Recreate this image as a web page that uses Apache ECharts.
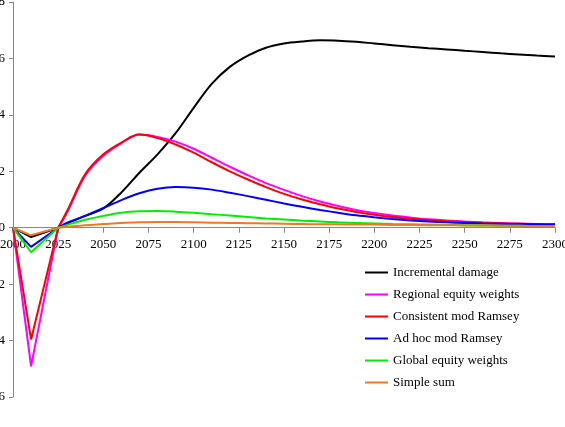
<!DOCTYPE html>
<html>
<head>
<meta charset="utf-8">
<script src="https://cdn.jsdelivr.net/npm/echarts@6/dist/echarts.min.js"></script>
<style>
  html, body { margin: 0; padding: 0; background: #fff; }
  #chart { width: 565px; height: 427px; }
</style>
</head>
<body>
<div id="chart"></div>
<script>
// years of the model output
const years = [2000, 2010, 2025, 2030, 2040, 2050, 2060, 2070, 2080, 2090, 2100,
  2110, 2120, 2130, 2140, 2150, 2160, 2170, 2180, 2190, 2200,
  2210, 2220, 2230, 2240, 2250, 2260, 2270, 2280, 2290, 2300];

const incrementalDamage = [0, -0.33, 0, 0.15, 0.42, 0.68, 1.25, 1.95, 2.6, 3.35, 4.25,
  5.1, 5.7, 6.1, 6.38, 6.53, 6.6, 6.64, 6.63, 6.59, 6.53,
  6.47, 6.41, 6.36, 6.32, 6.27, 6.23, 6.18, 6.14, 6.1, 6.07];
const regionalEquity = [0, -4.91, 0, 0.55, 1.85, 2.55, 3.0, 3.3, 3.22, 3.05, 2.8,
  2.48, 2.16, 1.86, 1.58, 1.34, 1.12, 0.93, 0.77, 0.63, 0.52,
  0.43, 0.36, 0.3, 0.26, 0.22, 0.19, 0.17, 0.15, 0.13, 0.12];
const consistentRamsey = [0, -3.96, 0, 0.6, 1.9, 2.6, 3.02, 3.3, 3.18, 2.95, 2.66,
  2.32, 2.0, 1.71, 1.44, 1.2, 1.0, 0.83, 0.68, 0.56, 0.46,
  0.38, 0.32, 0.27, 0.23, 0.2, 0.17, 0.15, 0.14, 0.13, 0.12];
const adHocRamsey = [0, -0.68, 0, 0.18, 0.42, 0.7, 0.98, 1.22, 1.38, 1.44, 1.42,
  1.35, 1.24, 1.12, 0.99, 0.86, 0.74, 0.63, 0.53, 0.44, 0.37,
  0.31, 0.26, 0.22, 0.19, 0.17, 0.15, 0.14, 0.13, 0.12, 0.11];
const globalEquity = [0, -0.87, 0, 0.1, 0.28, 0.42, 0.53, 0.58, 0.59, 0.57, 0.53,
  0.48, 0.43, 0.38, 0.33, 0.29, 0.25, 0.22, 0.19, 0.17, 0.15,
  0.13, 0.12, 0.11, 0.1, 0.09, 0.08, 0.07, 0.07, 0.06, 0.06];
const simpleSum = [0, -0.27, 0, 0.03, 0.09, 0.13, 0.17, 0.19, 0.2, 0.2, 0.19,
  0.18, 0.17, 0.16, 0.15, 0.14, 0.13, 0.12, 0.12, 0.11, 0.11,
  0.1, 0.1, 0.09, 0.09, 0.08, 0.08, 0.07, 0.07, 0.06, 0.06];

const seriesNames = ["Incremental damage", "Regional equity weights", "Consistent mod Ramsey",
  "Ad hoc mod Ramsey", "Global equity weights", "Simple sum"];
const seriesValues = [incrementalDamage, regionalEquity, consistentRamsey, adHocRamsey, globalEquity, simpleSum];
const seriesColors = ["#000000", "#ff00ff", "#ff0000", "#0000ff", "#00ee00", "#f07820"];

const font = "'Liberation Serif', 'Times New Roman', serif";
const gridBottom = 30;
const dipEnd = 2; // index of 2025: the early dip is drawn straight, the rest smooth

function pairs(vals) {
  return years.map((y, i) => [y, vals[i]]);
}

const series = [];
seriesNames.forEach((name, i) => {
  const pts = pairs(seriesValues[i]);
  const base = {
    name: name,
    type: "line",
    symbol: "none",
    color: seriesColors[i],
    lineStyle: { width: 2, color: seriesColors[i] }
  };
  series.push(Object.assign({}, base, { data: pts.slice(0, dipEnd + 1), smooth: false }));
  series.push(Object.assign({}, base, { data: pts.slice(dipEnd), smooth: 0.35 }));
});

const chart = echarts.init(document.getElementById("chart"));
chart.setOption({
  animation: false,
  backgroundColor: "#fff",
  grid: { left: 13, right: 10, top: 2, bottom: gridBottom, containLabel: false, outerBoundsMode: "none" },
  legend: {
    orient: "vertical",
    left: 360,
    top: 261,
    itemWidth: 23,
    itemHeight: 2,
    itemGap: 9,
    icon: "rect",
    textStyle: { fontFamily: font, fontSize: 13, color: "#000" },
    data: seriesNames
  },
  xAxis: {
    type: "value",
    min: 2000,
    max: 2300,
    interval: 25,
    axisLine: { onZero: false, lineStyle: { color: "#888", width: 1 } },
    axisTick: { show: true, length: 5, lineStyle: { color: "#888" } },
    axisLabel: { fontFamily: font, fontSize: 13, color: "#000", margin: 10, formatter: v => String(v) },
    splitLine: { show: false }
  },
  yAxis: {
    type: "value",
    min: -6,
    max: 8,
    interval: 2,
    axisLine: { show: true, onZero: false, lineStyle: { color: "#888", width: 1 } },
    axisTick: { show: true, length: 4, lineStyle: { color: "#888" } },
    axisLabel: { fontFamily: font, fontSize: 13, color: "#000", margin: 8 },
    splitLine: { show: false }
  },
  series: series
});

// move the x axis (line, ticks and labels) up to y = 0
const zeroY = chart.convertToPixel({ yAxisIndex: 0 }, 0);
const bottomY = 427 - gridBottom;
chart.setOption({ xAxis: { offset: -(bottomY - zeroY) } });
</script>
</body>
</html>
